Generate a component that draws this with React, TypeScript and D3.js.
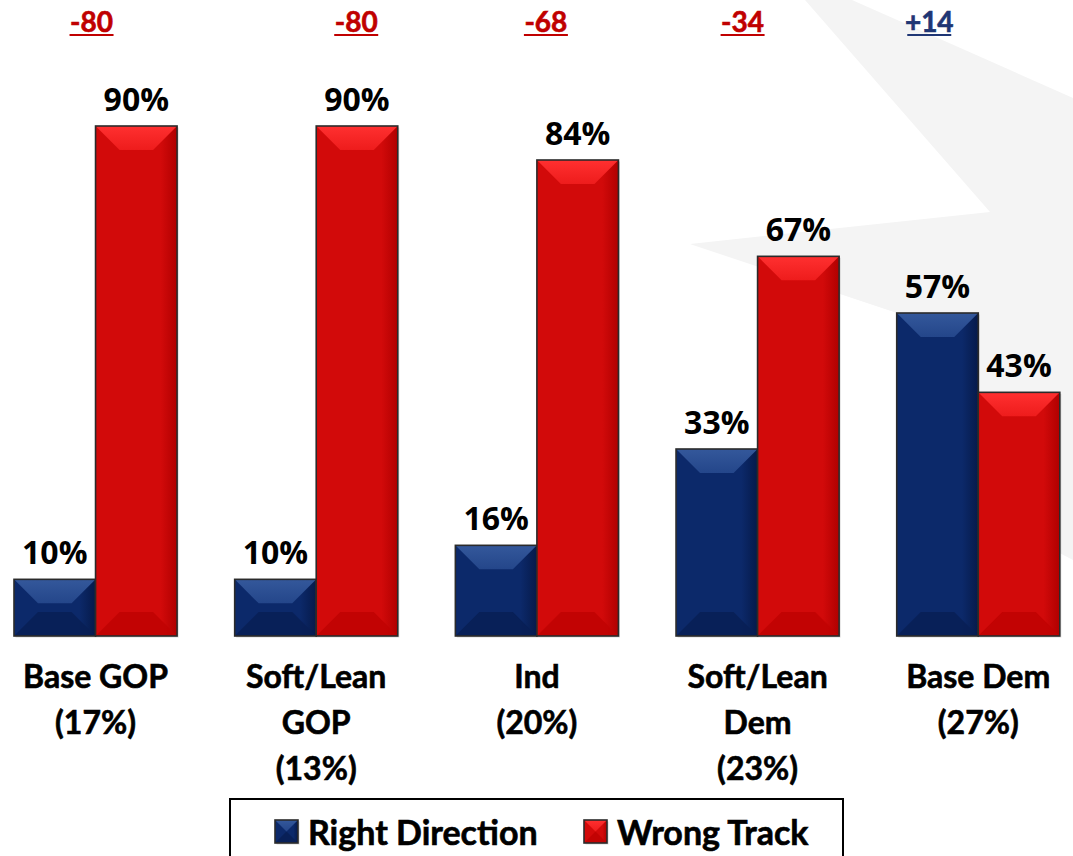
import React from 'react';
import * as d3 from 'd3';

// groups shown along the bottom, one line of text per entry
const categories = ['Base GOP', 'Soft/Lean GOP', 'Ind', 'Soft/Lean Dem', 'Base Dem'];
const categoryLines = [
  ['Base GOP', '(17%)'],
  ['Soft/Lean', 'GOP', '(13%)'],
  ['Ind', '(20%)'],
  ['Soft/Lean', 'Dem', '(23%)'],
  ['Base Dem', '(27%)'],
];
const seriesNames = ['Right Direction', 'Wrong Track'];
const rightDirection = [10, 10, 16, 33, 57];
const wrongTrack = [90, 90, 84, 67, 43];
const netLabels = ['-80', '-80', '-68', '-34', '+14'];

const W = 1073;
const H = 856;
const baseline = 636;
// the net labels are nudged by hand in the original slide
const netNudge = [-4, 40, 9, -15, -49];

const palette: Record<string, any> = {
  'Right Direction': { id: 'rd', body: '#0c296a', light: '#34589b', top: '#24468a', bottom: '#081f55', side: '#061a4a' },
  'Wrong Track': { id: 'wt', body: '#d20a0a', light: '#ff3030', top: '#ee1c1c', bottom: '#c00202', side: '#b00000' },
};

const Bar = ({ x, y, w, h, name }: any) => {
  const c = palette[name];
  const b = Math.min(24, h / 2, w / 2);
  const x1 = x + w;
  const y1 = y + h;
  const pts = (p: number[][]) => p.map((d) => d.join(',')).join(' ');
  return (
    <g>
      <rect x={x + 1.5} y={y + 1.5} width={w} height={h} fill="#000" opacity={0.15} />
      <rect x={x} y={y} width={w} height={h} fill={`url(#${c.id}-body)`} />
      <polygon points={pts([[x, y1], [x1, y1], [x1 - b, y1 - b], [x + b, y1 - b]])} fill={c.bottom} opacity={0.85} />
      <polygon points={pts([[x, y], [x1, y], [x1 - b, y + b], [x + b, y + b]])} fill={`url(#${c.id}-top)`} />
      <rect x={x} y={y} width={w} height={h} fill="none" stroke="#2b2b2b" strokeWidth={1.6} />
    </g>
  );
};

export default function App() {
  const x = d3.scaleBand().domain(categories).range([-14.8, 1088.6]).paddingInner(0.261).paddingOuter(0.1305);
  const xs = d3.scaleBand().domain(seriesNames).range([0, x.bandwidth()]);
  const y = d3.scaleLinear().domain([0, 90]).range([baseline, 126]);

  const rows = categories.map((cat, i) => ({
    cat,
    values: [
      { name: seriesNames[0], value: rightDirection[i] },
      { name: seriesNames[1], value: wrongTrack[i] },
    ],
  }));

  const pctFont = { fontFamily: '"Open Sans", sans-serif', fontWeight: 700, fontSize: 32 };
  const lblFont = { fontFamily: 'Lato, sans-serif', fontWeight: 700, stroke: 'currentColor', strokeWidth: 0.6 };

  return (
    <svg width={W} height={H} style={{ position: 'absolute', left: 0, top: 0, background: '#fff' }}>
      <defs>
        {seriesNames.map((s) => {
          const c = palette[s];
          return (
            <React.Fragment key={s}>
              <linearGradient id={`${c.id}-body`} x1="0" x2="1" y1="0" y2="0">
                <stop offset="0" stopColor={c.body} />
                <stop offset="0.8" stopColor={c.body} />
                <stop offset="1" stopColor={c.side} />
              </linearGradient>
              <linearGradient id={`${c.id}-top`} x1="0" x2="0" y1="0" y2="1">
                <stop offset="0" stopColor={c.light} />
                <stop offset="1" stopColor={c.top} />
              </linearGradient>
            </React.Fragment>
          );
        })}
      </defs>
      {/* faint star in the background */}
      <polygon
        points="805,0 852,0 1073,98 1073,560 934,488 897,313 690,244 990,212"
        fill="#f4f4f4"
      />
      {rows.map((r, i) => {
        const gx = x(r.cat) as number;
        const cx = gx + x.bandwidth() / 2 + netNudge[i];
        const neg = netLabels[i].startsWith('-');
        const col = neg ? '#c00000' : '#1f3674';
        return (
          <g key={r.cat}>
            <text x={cx} y={32} textAnchor="middle" fill={col} color={col} style={{ ...lblFont, fontSize: 28 }}>
              {netLabels[i]}
            </text>
            <rect x={cx - 22} y={34} width={44} height={2} fill={col} />
            {r.values.map((v) => {
              const bx = gx + (xs(v.name) as number);
              const by = y(v.value);
              return (
                <g key={v.name}>
                  <Bar x={bx} y={by} w={xs.bandwidth()} h={baseline - by} name={v.name} />
                  <text x={bx + xs.bandwidth() / 2} y={by - 15} textAnchor="middle" fill="#000" style={pctFont}>
                    {v.value}%
                  </text>
                </g>
              );
            })}
            {categoryLines[i].map((line, j) => (
              <text
                key={j}
                x={gx + x.bandwidth() / 2}
                y={688 + j * 46}
                textAnchor="middle"
                fill="#000"
                color="#000"
                style={{ ...lblFont, fontSize: 32 }}
              >
                {line}
              </text>
            ))}
          </g>
        );
      })}
      {/* legend */}
      <rect x={230} y={799} width={613} height={70} fill="#fff" stroke="#000" strokeWidth={2} />
      {seriesNames.map((s, i) => {
        const lx = i === 0 ? 275 : 584;
        return (
          <g key={s}>
            <Bar x={lx} y={820} w={23} h={23} name={s} />
            <text x={lx + 33} y={845} fill="#000" color="#000" style={{ ...lblFont, fontSize: 34 }}>
              {s}
            </text>
          </g>
        );
      })}
    </svg>
  );
}
